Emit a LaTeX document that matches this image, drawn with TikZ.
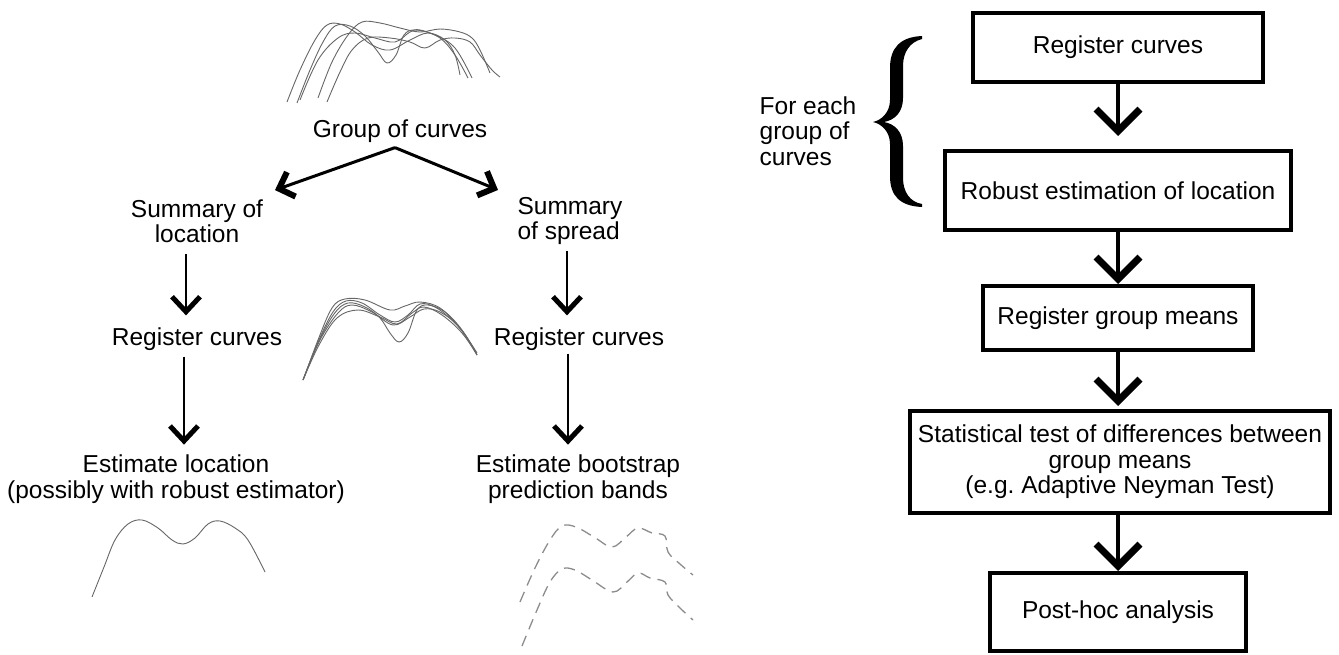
\documentclass[tikz,border=0pt]{standalone}
\usepackage{fontspec}
\setmainfont{Liberation Sans}
\usetikzlibrary{arrows.meta,calc}
\begin{document}
\begin{tikzpicture}[x=1pt,y=-1pt,
  txt/.style={font=\fontsize{24.5}{25.5}\selectfont, inner sep=0pt, align=center},
  stepbox/.style={draw, line width=4pt, inner sep=0pt, align=center, font=\fontsize{24.5}{25.5}\selectfont},
  bigarrow/.style={line width=3.5pt, -{Straight Barb[length=22pt,width=44pt,line width=7pt]}},
  thinarrow/.style={line width=2.5pt, -{Straight Barb[length=15pt,width=28pt,line width=5pt]}},
  diagarrow/.style={line width=3pt, -{Straight Barb[length=13pt,width=26pt,line width=6pt]}},
  crv/.style={draw=black!60, line width=0.9pt},
  dcrv/.style={draw=black!45, line width=1.3pt, dash pattern=on 11pt off 7pt},
]
\useasboundingbox (0,0) rectangle (1339,654);

% ---------- left panel texts ----------
\node[txt] (gc) at (400,131) {Group of curves};
\node[txt] (sl) at (197,221) {Summary of\\location};
\node[txt, align=left] (ss) at (570,221) {Summary\\of spread};
\node[txt] (rcl) at (197,339) {Register curves};
\node[txt] (rcr) at (579,339) {Register curves};
\node[txt] (el) at (176,479) {Estimate location\\(possibly with robust estimator)};
\node[txt] (eb) at (578,479) {Estimate bootstrap\\prediction bands};

% ---------- left panel arrows ----------
\draw[diagarrow] ($(gc.south)+(-5,5)$) -- ($(sl.north)+(78,-9)$);
\draw[diagarrow] ($(gc.south)+(-5,5)$) -- ($(ss.north)+(-72,-7)$);
\draw[thinarrow] ($(sl.south)+(-11,11)$) -- ($(rcl.north)+(-11,-12)$);
\draw[thinarrow] ($(rcl.south)+(-13,6)$) -- ($(el.north)+(8,-10)$);
\draw[thinarrow] ($(ss.south)+(-3,6)$) -- ($(rcr.north)+(-12,-12)$);
\draw[thinarrow] ($(rcr.south)+(-11,3)$) -- ($(eb.north)+(-10,-10)$);

% ---------- curves ----------
\draw[crv] plot[smooth,tension=0.6] coordinates {(287,102) (300,70) (315,40) (327,25) (340,24) (355,32) (372,45) (390,50) (410,40) (428,33) (445,40) (455,55) (460,75)};
\draw[crv] plot[smooth,tension=0.6] coordinates {(297,103) (310,70) (323,42) (335,26) (350,26) (365,36) (378,52) (387,63) (396,55) (404,35) (415,30) (435,35) (455,48) (472,78)};
\draw[crv] plot[smooth,tension=0.6] coordinates {(318,98) (332,62) (348,35) (362,22) (380,23) (400,28) (420,32) (440,29) (460,32) (472,38) (480,50) (490,73)};
\draw[crv] plot[smooth,tension=0.6] coordinates {(327,102) (340,72) (352,50) (368,38) (390,38) (410,42) (425,48) (440,40) (455,38) (470,42) (480,55) (492,70) (500,77)};
\draw[crv] plot[smooth,tension=0.6] coordinates {(300,100) (318,60) (338,38) (355,33) (375,38) (395,42) (410,32) (420,30) (440,38) (455,55) (468,78)};

\draw[crv] plot[smooth,tension=0.6] coordinates {(303,380) (318,342) (333,312) (346,301) (362,303) (380,315) (395,322) (408,315) (420,304) (435,307) (452,320) (466,336) (477,355)};
\draw[crv] plot[smooth,tension=0.6] coordinates {(303,380) (318,343) (334,314) (348,303) (365,307) (380,318) (390,333) (399,342) (408,333) (417,310) (428,305) (445,312) (462,330) (477,355)};
\draw[crv] plot[smooth,tension=0.6] coordinates {(303,380) (319,345) (337,318) (358,310) (380,317) (397,324) (412,313) (424,307) (442,315) (462,333) (477,355)};
\draw[crv] plot[smooth,tension=0.6] coordinates {(304,378) (318,340) (332,308) (345,299) (365,300) (390,310) (405,306) (420,302) (440,308) (460,328) (477,353)};
\draw[crv] plot[smooth,tension=0.6] coordinates {(303,380) (320,340) (338,313) (352,305) (372,312) (393,325) (410,317) (424,309) (440,312) (458,326) (476,352)};

\draw[crv] plot[smooth,tension=0.6] coordinates {(92,597) (104,567) (115,540) (128,524) (142,520) (158,528) (172,540) (183,544) (195,538) (208,524) (220,521) (235,528) (248,540) (265,572)};

\draw[dcrv] plot[smooth,tension=0.6] coordinates {(522,646) (537,610) (550,582) (562,569) (575,570) (592,580) (613,592) (627,582) (638,573) (650,578) (665,582) (668,595) (680,608) (693,620)};
\draw[dcrv] plot[smooth,tension=0.6] coordinates {(520,602) (535,568) (550,540) (562,526) (576,527) (594,537) (612,547) (626,537) (638,528) (652,533) (665,536) (668,552) (680,564) (693,575)};

% ---------- right panel ----------
\node[stepbox, minimum width=290pt, minimum height=69pt] (b1) at (1118,47.5) {Register curves};
\node[stepbox, minimum width=346pt, minimum height=79pt] (b2) at (1118,190.5) {Robust estimation of location};
\node[stepbox, minimum width=270pt, minimum height=64pt] (b3) at (1118,318) {Register group means};
\node[stepbox, minimum width=420pt, minimum height=102pt] (b4) at (1120,462) {Statistical test of differences between\\group means\\(e.g.\ Adaptive Neyman Test)};
\node[stepbox, minimum width=256pt, minimum height=78pt] (b5) at (1118,612) {Post-hoc analysis};

\draw[bigarrow, shorten >=13pt] (b1.south) -- (b2.north);
\draw[bigarrow] (b2.south) -- (b3.north);
\draw[bigarrow, shorten >=3pt] (b3.south) -- ([xshift=-2pt]b4.north);
\draw[bigarrow] ([xshift=-2pt]b4.south) -- (b5.north);

% brace and label
\fill (922,36) .. controls (900,37) and (890,48) .. (890,68)
  -- (890,100) .. controls (890,112) and (882,120) .. (873,122)
  .. controls (882,124) and (890,132) .. (890,144)
  -- (890,176) .. controls (890,196) and (900,206) .. (922,207)
  -- (922,204) .. controls (910,202) and (903,192) .. (903,178)
  -- (903,146) .. controls (903,132) and (895,124) .. (884,122)
  .. controls (895,120) and (903,112) .. (903,98)
  -- (903,66) .. controls (903,52) and (910,42) .. (922,39) -- cycle;
\node[txt, align=left] (fe) at (808,131) {For each\\group of\\curves};
\end{tikzpicture}
\end{document}
